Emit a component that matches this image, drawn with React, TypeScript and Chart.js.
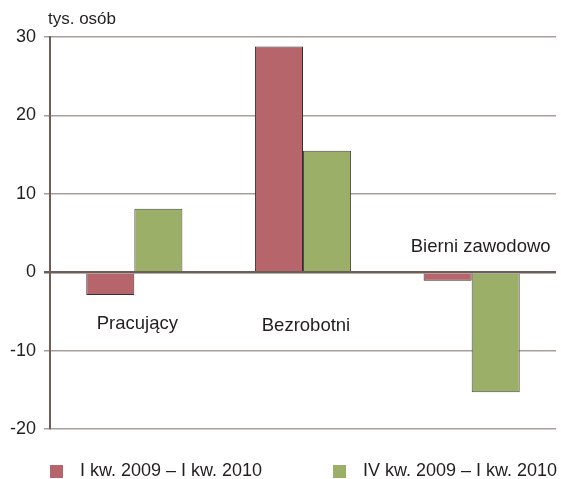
import React, { useEffect, useRef } from "react";
import { Chart, registerables } from "chart.js";

Chart.register(...registerables);

const categories = ["Pracujący", "Bezrobotni", "Bierni zawodowo"];
const seriesLabels = ["I kw. 2009 – I kw. 2010", "IV kw. 2009 – I kw. 2010"];
const seriesA = [-2.9, 28.8, -1.1];
const seriesB = [8.1, 15.5, -15.3];
const categoryLabelY = [-6.6, -6.8, 3.2];
const yMin = -20;
const yMax = 30;
const yStep = 10;
const axisTitle = "tys. osób";

const RED = "#b6656a";
const GREEN = "#9baf69";
const FONT = "'Liberation Sans', Arial, Helvetica, sans-serif";
const TEXT = "#231f20";

const labelsPlugin = {
  id: "labelsPlugin",
  afterDraw(chart: any) {
    const ctx = chart.ctx;
    const xs = chart.scales.x;
    const ys = chart.scales.y;
    const area = chart.chartArea;
    ctx.save();
    ctx.fillStyle = TEXT;
    // axis title
    ctx.font = `17px ${FONT}`;
    ctx.textAlign = "left";
    ctx.textBaseline = "alphabetic";
    ctx.fillText(axisTitle, area.left - 2, area.top - 13);
    // category labels
    ctx.font = `18.5px ${FONT}`;
    ctx.textAlign = "center";
    ctx.textBaseline = "middle";
    categories.forEach((c, i) => {
      ctx.fillText(c, xs.getPixelForValue(i) + (i === 2 ? 9 : 3), ys.getPixelForValue(categoryLabelY[i]));
    });
    // legend
    ctx.font = `18px ${FONT}`;
    const items = chart.data.datasets.map((d: any) => ({ text: d.label, color: d.backgroundColor }));
    const y = chart.height - 8;
    const starts = [50, 333];
    items.forEach((it: any, i: number) => {
      const x = starts[i];
      ctx.fillStyle = it.color;
      ctx.fillRect(x, y - 6, 13, 13);
      ctx.fillStyle = TEXT;
      ctx.textAlign = "left";
      ctx.textBaseline = "middle";
      ctx.fillText(it.text, x + 30, y);
    });
    ctx.restore();
  },
};

export default function App() {
  const ref = useRef<HTMLCanvasElement>(null);
  useEffect(() => {
    if (!ref.current) return;
    const chart = new Chart(ref.current, {
      type: "bar",
      data: {
        labels: categories,
        datasets: [
          { label: seriesLabels[0], data: seriesA, backgroundColor: RED, borderColor: "#3a2e2e", borderWidth: 1 },
          { label: seriesLabels[1], data: seriesB, backgroundColor: GREEN, borderColor: "#4a4a44", borderWidth: 1 },
        ],
      },
      options: {
        animation: false,
        responsive: true,
        maintainAspectRatio: false,
        layout: { padding: { left: 0, right: 5, top: 37, bottom: 50 } },
        datasets: { bar: { categoryPercentage: 0.57, barPercentage: 1.0 } },
        plugins: { legend: { display: false }, tooltip: { enabled: false }, title: { display: false } },
        scales: {
          x: { display: false, grid: { display: false } },
          y: {
            min: yMin,
            max: yMax,
            afterFit: (s: any) => { s.width = 50; },
            ticks: { stepSize: yStep, color: TEXT, font: { family: FONT, size: 18 }, padding: 8 },
            border: { display: true, color: "#6e5e59", width: 2 },
            grid: {
              color: (c: any) => (c.tick && c.tick.value === 0 ? "#6e5e59" : "#a99f9b"),
              lineWidth: (c: any) => (c.tick && c.tick.value === 0 ? 2.5 : 1.5),
              tickLength: 6,
              drawTicks: true,
            },
          },
        },
      },
      plugins: [labelsPlugin],
    });
    return () => chart.destroy();
  }, []);
  return (
    <div style={{ position: "fixed", left: 0, top: 0, width: 561, height: 479, background: "#fff" }}>
      <canvas ref={ref} />
    </div>
  );
}
